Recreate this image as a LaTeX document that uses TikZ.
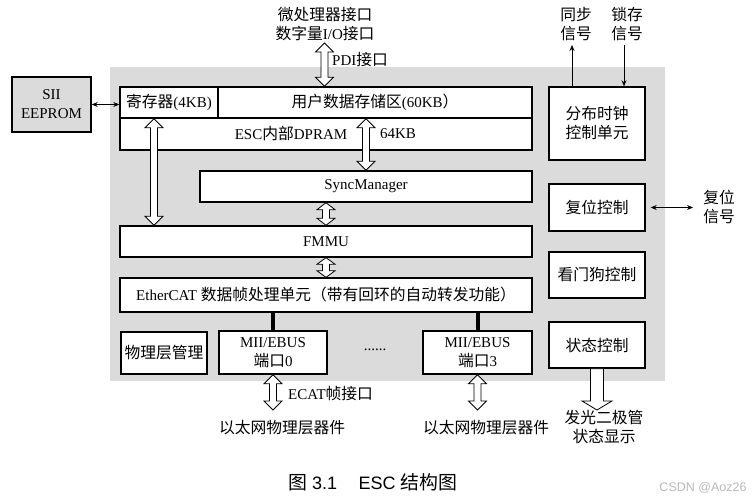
\documentclass[tikz,border=0pt]{standalone}
\usepackage{fontspec}
\setmainfont{Liberation Serif}
\newfontfamily\cjk{Noto Sans CJK SC}[Scale=1.05]
\newfontfamily\capsans{Liberation Sans}
\usetikzlibrary{arrows.meta,calc}
\newcommand\zh[1]{{\cjk #1}}
\newcommand\fs{\fontsize{15}{19}\selectfont}
% vertical hollow double arrow: [#1 head length] #2 top point, #3 bottom point
\newcommand\vdbl[3][9pt]{\draw[hollow] let \p1=#2, \p2=#3 in
  (\x1,\y1) -- (\x1+9pt,\y1-#1) -- (\x1+3.5pt,\y1-#1) -- (\x1+3.5pt,\y2+#1)
  -- (\x1+9pt,\y2+#1) -- (\x1,\y2) -- (\x1-9pt,\y2+#1) -- (\x1-3.5pt,\y2+#1)
  -- (\x1-3.5pt,\y1-#1) -- (\x1-9pt,\y1-#1) -- cycle;}
% vertical hollow single arrow pointing down: #1 top, #2 tip
\newcommand\vdown[2]{\draw[hollow] let \p1=#1, \p2=#2 in
  (\x1-6.5pt,\y1) -- (\x1+6.5pt,\y1) -- (\x1+6.5pt,\y2+9pt) -- (\x1+15pt,\y2+9pt)
  -- (\x1,\y2) -- (\x1-15pt,\y2+9pt) -- (\x1-6.5pt,\y2+9pt) -- cycle;}
\begin{document}
\begin{tikzpicture}[x=1pt,y=-1pt,
  box/.style={draw, line width=1.4pt, fill=white, inner sep=0pt, align=center, font=\fs},
  txt/.style={inner sep=0pt, align=center, font=\fs},
  hollow/.style={draw, line width=0.8pt, fill=white, line join=miter},
  thinarr/.style={line width=0.8pt, -{Stealth[length=6pt,width=5pt]}},
  thinboth/.style={line width=0.8pt, {Stealth[length=6pt,width=5pt]}-{Stealth[length=6pt,width=5pt]}},
  busline/.style={line width=4pt}]
\useasboundingbox (0,0) rectangle (755,502);
\fill[white] (0,0) rectangle (755,502);
% background
\node[fill=gray!28, inner sep=0pt, minimum width=555pt, minimum height=314pt] (bg) at (387.5,224) {};
% left
\node[box, fill=gray!28, minimum width=79pt, minimum height=55pt] (sii) at (51.5,104.5) {SII\\EEPROM};
% DPRAM
\node[box, minimum width=412pt, minimum height=32pt] (dpram) at (326,134) {};
\node[box, minimum width=98pt, minimum height=31pt] (reg) at (169,102.5) {\zh{寄存器}(4KB)};
\node[box, minimum width=314pt, minimum height=31pt] (user) at (375,102.5) {\zh{用户数据存储区}(60KB\zh{）}};
\node[txt] (dpramlbl) at (291,134) {ESC\zh{内部}DPRAM};
\node[txt] (kb) at (398,134) {64KB};
\node[box, minimum width=332pt, minimum height=31pt] (sync) at (366,186.5) {SyncManager};
\node[box, minimum width=412pt, minimum height=31pt] (fmmu) at (326,241.5) {FMMU};
\node[box, minimum width=412pt, minimum height=34pt] (ether) at (326,295) {EtherCAT \zh{数据帧处理单元（带有回环的自动转发功能）}};
\node[box, minimum width=86pt, minimum height=42pt] (phy) at (164,353) {\zh{物理层管理}};
\node[box, minimum width=108pt, minimum height=43pt] (p0) at (273,352.5) {MII/EBUS\\\zh{端口}0};
\node[txt] (dots) at (375,350) {......};
\node[box, minimum width=109pt, minimum height=43pt] (p3) at (477.5,352.5) {MII/EBUS\\\zh{端口}3};
% right column
\node[box, minimum width=96pt, minimum height=73pt] (dc) at (597,123.5) {\zh{分布时钟}\\\zh{控制单元}};
\node[box, minimum width=96pt, minimum height=47pt] (rst) at (597,207.5) {\zh{复位控制}};
\node[box, minimum width=96pt, minimum height=46pt] (wd) at (597,275) {\zh{看门狗控制}};
\node[box, minimum width=96pt, minimum height=46pt] (st) at (597,345) {\zh{状态控制}};
% outside texts
\node[txt] (mcu) at (325,24) {\zh{微处理器接口}\\\zh{数字量}I/O\zh{接口}};
\node[txt, anchor=west] (pdil) at (332,60) {PDI\zh{接口}};
\node[txt] (syncs) at (576,24) {\zh{同步}\\\zh{信号}};
\node[txt] (latchs) at (627,24) {\zh{锁存}\\\zh{信号}};
\node[txt] (rsts) at (719,207) {\zh{复位}\\\zh{信号}};
\node[txt, anchor=west] (ecat) at (288,394) {ECAT\zh{帧接口}};
\node[txt] (eth0) at (282,428) {\zh{以太网物理层器件}};
\node[txt] (eth3) at (486,428) {\zh{以太网物理层器件}};
\node[txt] (led) at (604,427) {\zh{发光二极管}\\\zh{状态显示}};
\node[inner sep=0pt] (cap) at (373,482) {\fontsize{18}{20}\selectfont{\cjk 图} \capsans 3.1\hspace{1.2em}ESC {\cjk 结构图}};
\node[inner sep=0pt, text=gray!55] (wm) at (703,488) {\fontsize{12.5}{14}\selectfont\capsans CSDN @Aoz26};
% coordinates
\coordinate (pdiT) at (324.5,43);
\coordinate (a1) at ([xshift=-15pt]reg.south);
\coordinate (e0) at (273,410);
\coordinate (e3) at (477.5,410);
\coordinate (ledT) at (597,410);
\coordinate (syncT) at (572,45);
\coordinate (latchT) at (624,45);
\coordinate (rstT) at (693,207.5);
% bus lines
\draw[busline] (ether.south -| p0.north) -- (p0.north);
\draw[busline] (ether.south -| p3.north) -- (p3.north);
% hollow arrows
\vdbl{(pdiT)}{(pdiT |- user.north)}
\vdbl{(a1)}{(a1 |- fmmu.north)}
\vdbl{(sync.north |- user.south)}{(sync.north)}
\vdbl[7pt]{(fmmu.north |- sync.south)}{(fmmu.north)}
\vdbl[6.5pt]{(fmmu.south)}{(ether.north)}
\vdbl{(p0.south)}{(e0)}
\vdbl{(p3.south)}{(e3)}
\vdown{(st.south)}{(ledT)}
% thin arrows
\draw[thinboth] (sii.east) -- (sii.east -| reg.west);
\draw[thinarr] (syncT |- dc.north) -- (syncT);
\draw[thinarr] (latchT) -- (latchT |- dc.north);
\draw[thinboth] ([xshift=5pt]rst.east) -- (rstT);
\end{tikzpicture}
\end{document}
